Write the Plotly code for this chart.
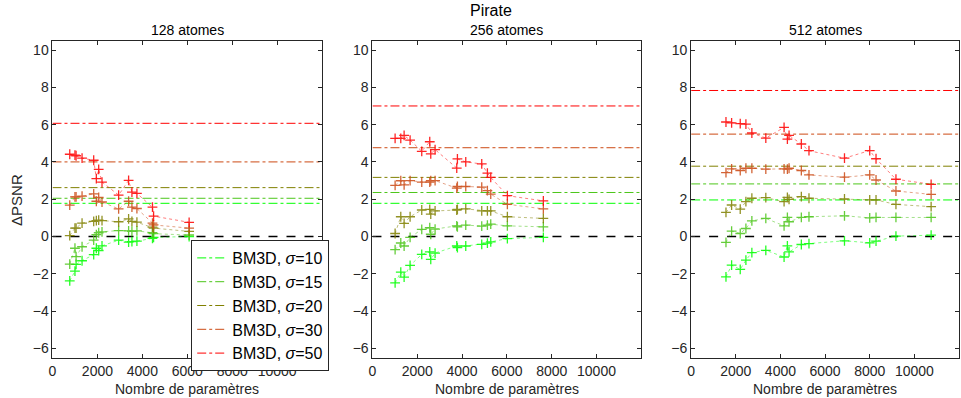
import plotly.graph_objects as go

# ---------------- data ----------------
sigmas = [10, 15, 20, 30, 50]
colors = ["#00ff00", "#4cc61a", "#808000", "#cc4a14", "#ff0000"]
panel_titles = ["128 atomes", "256 atomes", "512 atomes"]
xticks = [0, 2000, 4000, 6000, 8000, 10000]
xticklabels = ["0", "2000", "4000", "6000", "8000", "10000"]
yticks = [-6, -4, -2, 0, 2, 4, 6, 8, 10]

# BM3D reference levels (horizontal lines), one per sigma
bm3d_128 = [1.78, 2.05, 2.62, 4.00, 6.07]
bm3d_256 = [1.78, 2.36, 3.17, 4.76, 7.00]
bm3d_512 = [1.96, 2.82, 3.77, 5.49, 7.83]

# 128 atomes
x128 = [768, 1000, 1050, 1316, 1834, 1952, 2056, 2204, 2944, 3388, 3536, 3758, 4450, 4500, 6082]
s10_128 = [-2.38, -1.86, -1.50, -1.30, -0.97, -0.63, -0.75, -0.50, -0.20, -0.30, -0.27, -0.25, -0.10, -0.05, 0.00]
s15_128 = [-1.48, -0.63, -1.08, -0.55, -0.20, 0.10, 0.20, 0.25, 0.32, 0.30, 0.28, 0.30, 0.20, 0.15, 0.08]
s20_128 = [0.05, 0.45, 0.45, 0.72, 0.81, 0.85, 0.88, 0.85, 0.79, 0.94, 0.81, 0.77, 0.50, 0.45, 0.27]
s30_128 = [1.68, 2.13, 2.13, 2.16, 2.29, 1.89, 2.10, 1.85, 1.48, 1.89, 1.57, 1.50, 0.72, 0.62, 0.45]
s50_128 = [4.41, 4.36, 4.33, 4.20, 4.09, 3.10, 3.60, 2.92, 2.22, 3.01, 2.38, 2.31, 1.57, 1.09, 0.76]

# 256 atomes
x256 = [1011, 1264, 1413, 1680, 2200, 2557, 2602, 2795, 3762, 3792, 4164, 4877, 5130, 5279, 6021, 7627]
s10_256 = [-2.49, -1.91, -2.18, -1.55, -0.96, -0.83, -1.23, -0.89, -0.51, -0.60, -0.51, -0.42, -0.36, -0.29, -0.11, -0.05]
s15_256 = [-0.70, -0.35, -0.51, -0.05, 0.38, 0.47, 0.12, 0.40, 0.57, 0.52, 0.61, 0.56, 0.61, 0.66, 0.57, 0.52]
s20_256 = [0.16, 1.06, 0.70, 1.06, 1.42, 1.45, 1.20, 1.37, 1.42, 1.45, 1.48, 1.37, 1.37, 1.37, 1.06, 0.97]
s30_256 = [2.74, 2.99, 2.77, 3.00, 2.92, 2.92, 2.99, 3.00, 2.59, 2.68, 2.68, 2.65, 2.46, 2.27, 1.73, 1.48]
s50_256 = [5.26, 5.26, 5.42, 5.17, 4.57, 5.08, 4.43, 4.66, 3.67, 4.16, 4.00, 3.89, 3.40, 3.17, 2.19, 1.91]

# 512 atomes
x512 = [1561, 1814, 2200, 2454, 2721, 3346, 4164, 4312, 4387, 4937, 5279, 6870, 8000, 8283, 9175, 10751]
s10_512 = [-2.17, -1.54, -1.76, -1.27, -0.86, -0.74, -1.10, -0.50, -0.83, -0.43, -0.38, -0.23, -0.34, -0.25, 0.02, 0.07]
s15_512 = [-0.32, 0.29, 0.16, 0.43, 0.84, 0.97, 0.57, 1.02, 0.79, 1.02, 1.06, 1.11, 1.00, 1.02, 1.02, 1.02]
s20_512 = [1.29, 1.69, 1.47, 1.87, 2.05, 2.08, 1.87, 2.10, 1.99, 2.14, 2.05, 2.01, 1.96, 1.96, 1.72, 1.60]
s30_512 = [3.43, 3.63, 3.54, 3.66, 3.66, 3.61, 3.63, 3.61, 3.66, 3.54, 3.30, 3.18, 3.30, 3.03, 2.44, 2.26]
s50_512 = [6.14, 6.09, 6.05, 6.03, 5.55, 5.28, 5.85, 5.22, 5.42, 4.96, 4.60, 4.20, 4.61, 4.17, 3.07, 2.80]

panels = [
    (x128, [s10_128, s15_128, s20_128, s30_128, s50_128], bm3d_128),
    (x256, [s10_256, s15_256, s20_256, s30_256, s50_256], bm3d_256),
    (x512, [s10_512, s15_512, s20_512, s30_512, s50_512], bm3d_512),
]

# ---------------- layout geometry ----------------
W, H = 961, 398
x_domains = [[48.7 / W, 319.4 / W], [370.0 / W, 640.0 / W], [690.0 / W, 959.0 / W]]
y_domain = [1 - 357.7 / H, 1 - 40.7 / H]
XMAX = 12000
FONT = "Liberation Sans, Arial, sans-serif"
AX = "#262626"

fig = go.Figure()

for p, (xs, series, levels) in enumerate(panels):
    xa = "x" if p == 0 else f"x{p+1}"
    ya = "y" if p == 0 else f"y{p+1}"
    for k, (sig, col, lev) in enumerate(zip(sigmas, colors, levels)):
        fig.add_trace(go.Scatter(
            x=[0, XMAX], y=[lev, lev], mode="lines",
            line=dict(color=col, width=1, dash="dashdot"),
            name=f"BM3D, <i>σ</i>={sig}", showlegend=(p == 0),
            xaxis=xa, yaxis=ya, hoverinfo="skip"))
    fig.add_trace(go.Scatter(
        x=[0, XMAX], y=[0, 0], mode="lines",
        line=dict(color="black", width=1.5, dash="dash"),
        showlegend=False, xaxis=xa, yaxis=ya, hoverinfo="skip"))
    for col, ys in zip(colors, series):
        fig.add_trace(go.Scatter(
            x=xs, y=ys, mode="lines",
            line=dict(color=col, width=1, dash="dot"), opacity=0.5,
            showlegend=False, xaxis=xa, yaxis=ya))
    for col, ys in zip(colors, series):
        fig.add_trace(go.Scatter(
            x=xs, y=ys, mode="markers",
            marker=dict(symbol="cross-thin", size=7, color=col,
                        line=dict(color=col, width=1.3)),
            opacity=0.85, showlegend=False, xaxis=xa, yaxis=ya))

axis_common = dict(showline=True, linecolor=AX, linewidth=1, mirror="ticks",
                   ticks="inside", ticklen=4, tickcolor=AX, showgrid=False,
                   zeroline=False, tickfont=dict(family=FONT, size=14, color=AX))

layout = dict(
    width=W, height=H, margin=dict(l=0, r=0, t=0, b=0),
    paper_bgcolor="white", plot_bgcolor="white",
    font=dict(family=FONT, color=AX),
    showlegend=True,
    legend=dict(x=188 / W, y=1 - 240 / H, xanchor="left", yanchor="top",
                bgcolor="white", bordercolor=AX, borderwidth=1,
                font=dict(family=FONT, size=16, color="black"),
                tracegroupgap=0, itemwidth=30),
)
for p in range(3):
    sx = "" if p == 0 else str(p + 1)
    layout[f"xaxis{sx}"] = dict(domain=x_domains[p], range=[0, XMAX], tickvals=xticks,
                                ticktext=xticklabels, anchor=f"y{sx}", **axis_common)
    layout[f"yaxis{sx}"] = dict(domain=y_domain, range=[-6.5, 10.5], tickvals=yticks,
                                anchor=f"x{sx}", **axis_common)
fig.update_layout(**layout)

ann = []
for p in range(3):
    cx = (x_domains[p][0] + x_domains[p][1]) / 2
    ann.append(dict(text=panel_titles[p], x=cx, y=1 - 30 / H, xref="paper", yref="paper",
                    xanchor="center", yanchor="middle",
                    showarrow=False, font=dict(family=FONT, size=14, color="black")))
    ann.append(dict(text="Nombre de paramètres", x=cx, y=1 - 389 / H, xref="paper", yref="paper",
                    xanchor="center", yanchor="middle",
                    showarrow=False, font=dict(family=FONT, size=14, color=AX)))
ann.append(dict(text="Pirate", x=489 / W, y=1 - 11 / H, xref="paper", yref="paper",
                xanchor="center", yanchor="middle",
                showarrow=False, font=dict(family=FONT, size=16, color="black")))
ann.append(dict(text="ΔPSNR", x=13 / W, y=1 - 200 / H, xref="paper", yref="paper",
                xanchor="center", yanchor="middle",
                showarrow=False, textangle=-90, font=dict(family=FONT, size=15, color=AX)))
fig.update_layout(annotations=ann)

fig.write_html("out.html")
